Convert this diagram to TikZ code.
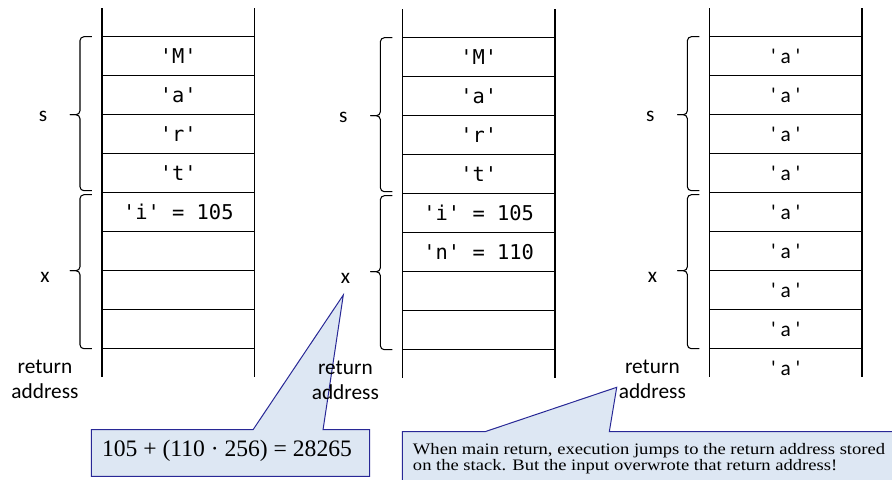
\documentclass[tikz,border=0pt]{standalone}
\usepackage{fontspec}
\setmainfont{Liberation Serif}
\newfontfamily\cellfont{DejaVu Sans Mono}[Ligatures=TeXOff]
\newfontfamily\lblfont{Carlito}[Ligatures=TeXOff]
\newfontfamily\notefont{Liberation Serif}[FakeStretch=1.16]
\usepackage{tikz}
\usetikzlibrary{positioning}

\definecolor{notefill}{RGB}{221,231,243}
\definecolor{noteline}{RGB}{40,40,150}

\begin{document}
\begin{tikzpicture}[
    x=0.75pt, y=-0.75pt,
    node distance=0pt,
    cellbox/.style={draw, line width=0.9pt, minimum width=114.5pt, minimum height=29.25pt, inner sep=0pt, outer sep=0pt, font=\cellfont\fontsize{15.3}{18}\selectfont},
    abox/.style={cellbox, font=\lblfont\fontsize{16}{18}\selectfont},
    wall/.style={line width=0.9pt},
    lbl/.style={font=\lblfont\fontsize{16}{18.75}\selectfont, align=center, inner sep=0pt},
    brc/.style={line width=0.8pt, rounded corners=3pt},
    notebox/.style={draw=noteline, fill=notefill, line width=0.75pt, line join=miter},
]
\useasboundingbox (0,0) rectangle (892,479);
\clip (0,0) rectangle (892,479);

% Callouts (drawn first, the labels sit on top)
\node[minimum width=208.2pt, minimum height=34.5pt, inner sep=0pt] (eq) at (230.5,453) {};
\coordinate (eqtip) at (343.3,295);
\filldraw[notebox] (eq.north west) -- ([xshift=121.2pt]eq.north west) -- (eqtip) -- ([xshift=173.7pt]eq.north west) -- (eq.north east) -- (eq.south east) -- (eq.south west) -- cycle;
\node[font=\fontsize{17.7}{20}\selectfont, inner sep=0pt] (eqtext) at (227,451) {105 + (110 · 256) = 28265};

\node[minimum width=373.3pt, minimum height=45pt, inner sep=0pt, anchor=north west] (msg) at (402.3,431.7) {};
\coordinate (msgtip) at (616.7,387.3);
\filldraw[notebox] (msg.north west) -- ([xshift=62pt]msg.north west) -- (msgtip) -- ([xshift=155.25pt]msg.north west) -- (msg.north east) -- (msg.south east) -- (msg.south west) -- cycle;
\node[font=\notefont\fontsize{12}{12}\selectfont, align=left, inner sep=0pt, anchor=north west] (msgtext) at (412.7,443.2) {When main return, execution jumps to the return address stored\\on the stack. But the input overwrote that return address!};

% Stack 1: before the input
\node[cellbox] (a1) at (178.3,56.2) {'M'};
\node[cellbox, below=of a1] (a2) {'a'};
\node[cellbox, below=of a2] (a3) {'r'};
\node[cellbox, below=of a3] (a4) {'t'};
\node[cellbox, below=of a4] (a5) {'i' = 105};
\node[cellbox, below=of a5] (a6) {};
\node[cellbox, below=of a6] (a7) {};
\node[cellbox, below=of a7] (a8) {};
\draw[wall] (a1.north west) -- ++(0,-28.4);
\draw[wall] (a1.north east) -- ++(0,-28.4);
\draw[wall] (a8.south west) -- ++(0,28);
\draw[wall] (a8.south east) -- ++(0,28);

\draw[brc] ([xshift=-7.5pt]a1.north west) -- ++(-9pt,0) |- ([xshift=-24pt]a2.south west);
\draw[brc] ([xshift=-24pt]a2.south west) -| ([xshift=-16.5pt,yshift=1.5pt]a4.south west) -- ++(9pt,0);
\draw[brc] ([xshift=-7.5pt,yshift=-1.5pt]a5.north west) -- ++(-9pt,0) |- ([xshift=-24pt]a6.south west);
\draw[brc] ([xshift=-24pt]a6.south west) -| ([xshift=-16.5pt]a8.south west) -- ++(9pt,0);
\node[lbl] (s1) at ([xshift=-44.25pt,yshift=-1.4pt]a2.south west) {s};
\node[lbl] (x1) at ([xshift=-42.75pt,yshift=-4.7pt]a6.south west) {x};
\node[lbl, anchor=north] (r1) at ([xshift=-42.75pt,yshift=-8.5pt]a8.south west) {return\\address};

% Stack 2: two characters typed
\node[cellbox] (b1) at (478.7,57.2) {'M'};
\node[cellbox, below=of b1] (b2) {'a'};
\node[cellbox, below=of b2] (b3) {'r'};
\node[cellbox, below=of b3] (b4) {'t'};
\node[cellbox, below=of b4] (b5) {'i' = 105};
\node[cellbox, below=of b5] (b6) {'n' = 110};
\node[cellbox, below=of b6] (b7) {};
\node[cellbox, below=of b7] (b8) {};
\draw[wall] (b1.north west) -- ++(0,-28.4);
\draw[wall] (b1.north east) -- ++(0,-28.4);
\draw[wall] (b8.south west) -- ++(0,28);
\draw[wall] (b8.south east) -- ++(0,28);

\draw[brc] ([xshift=-7.5pt]b1.north west) -- ++(-9pt,0) |- ([xshift=-24pt]b2.south west);
\draw[brc] ([xshift=-24pt]b2.south west) -| ([xshift=-16.5pt,yshift=1.5pt]b4.south west) -- ++(9pt,0);
\draw[brc] ([xshift=-7.5pt,yshift=-1.5pt]b5.north west) -- ++(-9pt,0) |- ([xshift=-24pt]b6.south west);
\draw[brc] ([xshift=-24pt]b6.south west) -| ([xshift=-16.5pt]b8.south west) -- ++(9pt,0);
\node[lbl] (s2) at ([xshift=-44.25pt,yshift=-1.4pt]b2.south west) {s};
\node[lbl] (x2) at ([xshift=-42.75pt,yshift=-4.7pt]b6.south west) {x};
\node[lbl, anchor=north] (r2) at ([xshift=-42.75pt,yshift=-8.5pt]b8.south west) {return\\address};

% Stack 3: overflow
\node[abox] (c1) at (785.7,56.2) {' a '};
\node[abox, below=of c1] (c2) {' a '};
\node[abox, below=of c2] (c3) {' a '};
\node[abox, below=of c3] (c4) {' a '};
\node[abox, below=of c4] (c5) {' a '};
\node[abox, below=of c5] (c6) {' a '};
\node[abox, below=of c6] (c7) {' a '};
\node[abox, below=of c7] (c8) {' a '};
\node[abox, draw=none, below=of c8] (c9) {' a '};
\draw[wall] (c1.north west) -- ++(0,-28.4);
\draw[wall] (c1.north east) -- ++(0,-28.4);
\draw[wall] (c8.south west) -- ++(0,28);
\draw[wall] (c8.south east) -- ++(0,28);

\draw[brc] ([xshift=-7.5pt]c1.north west) -- ++(-9pt,0) |- ([xshift=-24pt]c2.south west);
\draw[brc] ([xshift=-24pt]c2.south west) -| ([xshift=-16.5pt,yshift=1.5pt]c4.south west) -- ++(9pt,0);
\draw[brc] ([xshift=-7.5pt,yshift=-1.5pt]c5.north west) -- ++(-9pt,0) |- ([xshift=-24pt]c6.south west);
\draw[brc] ([xshift=-24pt]c6.south west) -| ([xshift=-16.5pt]c8.south west) -- ++(9pt,0);
\node[lbl] (s3) at ([xshift=-44.25pt,yshift=-1.4pt]c2.south west) {s};
\node[lbl] (x3) at ([xshift=-42.75pt,yshift=-4.7pt]c6.south west) {x};
\node[lbl, anchor=north] (r3) at ([xshift=-42.75pt,yshift=-8.5pt]c8.south west) {return\\address};
\end{tikzpicture}
\end{document}
